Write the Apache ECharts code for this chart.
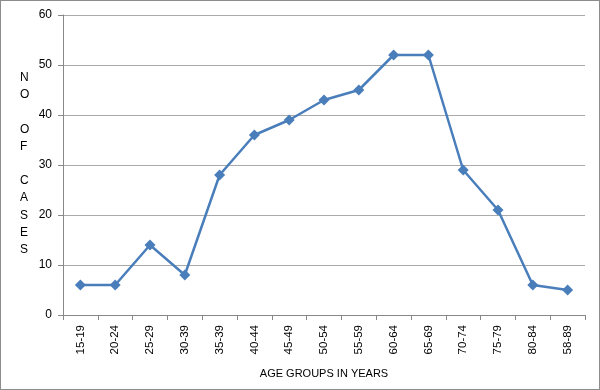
<!DOCTYPE html>
<html>
<head>
<meta charset="utf-8">
<script src="https://cdn.jsdelivr.net/npm/echarts@6/dist/echarts.min.js"></script>
<style>
  html, body { margin: 0; padding: 0; background: #fff; }
  #chart { width: 598px; height: 388px; border: 1px solid #8c8c8c; }
</style>
</head>
<body>
<div id="chart"></div>
<script>
// 年龄组
const ageGroups = ['15-19', '20-24', '25-29', '30-39', '35-39', '40-44', '45-49', '50-54',
  '55-59', '60-64', '65-69', '70-74', '75-79', '80-84', '58-89'];
// 病例数
const cases = [6, 6, 14, 8, 28, 36, 39, 43, 45, 52, 52, 29, 21, 6, 5];
const yTicks = [0, 10, 20, 30, 40, 50, 60];

const myChart = echarts.init(document.getElementById('chart'));

const option = {
  animation: false,
  textStyle: { fontFamily: 'Liberation Sans, Arial, sans-serif' },
  grid: { left: 62, right: 14, top: 14, bottom: 74 },
  graphic: [
    {
      type: 'text',
      left: 19,
      top: 68,
      style: {
        text: 'N\nO\n\nO\nF\n\nC\nA\nS\nE\nS',
        fontSize: 12,
        lineHeight: 17.2,
        fill: '#000',
        align: 'center',
        fontFamily: 'Liberation Sans, Arial, sans-serif'
      }
    }
  ],
  xAxis: {
    type: 'category',
    data: ageGroups,
    boundaryGap: true,
    name: 'AGE GROUPS IN YEARS',
    nameLocation: 'middle',
    nameGap: 53,
    nameTextStyle: { color: '#000', fontSize: 11 },
    axisLine: { lineStyle: { color: '#888', width: 1 } },
    axisTick: { show: true, alignWithLabel: false, length: 5, lineStyle: { color: '#888' } },
    axisLabel: { rotate: 90, color: '#000', fontSize: 11.5, margin: 10, interval: 0 }
  },
  yAxis: {
    type: 'value',
    min: yTicks[0],
    max: yTicks[yTicks.length - 1],
    interval: 10,
    axisLine: { show: true, lineStyle: { color: '#888', width: 1 } },
    axisTick: { show: true, length: 5, lineStyle: { color: '#888' } },
    axisLabel: { color: '#000', fontSize: 12, margin: 11 },
    splitLine: { lineStyle: { color: '#aaa', width: 1 } }
  },
  series: [
    {
      type: 'line',
      data: cases,
      symbol: 'diamond',
      symbolSize: 11,
      lineStyle: { color: '#4a7ebb', width: 2.5 },
      itemStyle: { color: '#4a7ebb' }
    }
  ]
};

myChart.setOption(option);
</script>
</body>
</html>
